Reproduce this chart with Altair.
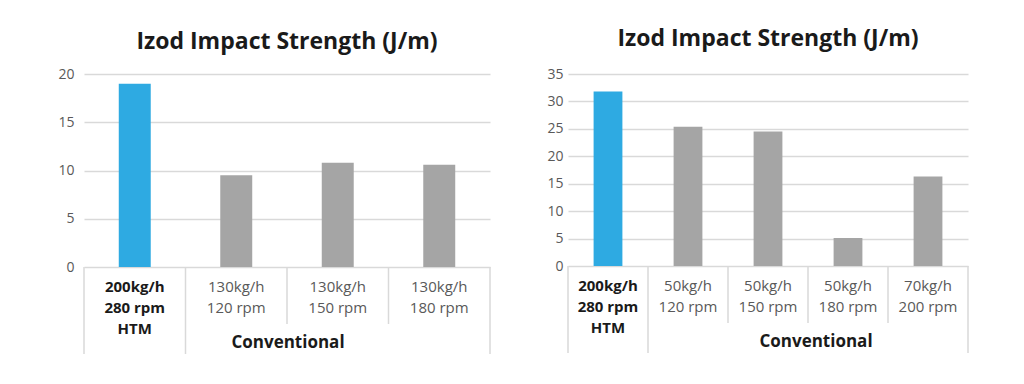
import altair as alt
import pandas as pd

TITLE = "Izod Impact Strength (J/m)"
GROUPS = ["HTM", "Conventional"]

left_cats = ["200kg/h\n280 rpm\nHTM", "130kg/h\n120 rpm", "130kg/h\n150 rpm", "130kg/h\n180 rpm"]
left_vals = [19.0, 9.5, 10.8, 10.6]
left_groups = ["HTM", "Conventional", "Conventional", "Conventional"]
left_ticks = [0, 5, 10, 15, 20]

right_cats = ["200kg/h\n280 rpm\nHTM", "50kg/h\n120 rpm", "50kg/h\n150 rpm", "50kg/h\n180 rpm", "70kg/h\n200 rpm"]
right_vals = [31.8, 25.4, 24.5, 5.1, 16.3]
right_groups = ["HTM", "Conventional", "Conventional", "Conventional", "Conventional"]
right_ticks = [0, 5, 10, 15, 20, 25, 30, 35]

BLUE = "#2eaae2"
GRAY = "#a5a5a5"
LINE = "#d9d9d9"
FONT = "Open Sans"


def panel(cats, vals, groups, ticks, W, H, bar_frac, label_pad, conv_x, title_offset):
    df = pd.DataFrame({"cat": cats, "value": vals, "group": groups})
    xenc = lambda bp=None: (alt.X("cat:N", sort=cats, axis=None,
                                  scale=alt.Scale(paddingInner=0, paddingOuter=0))
                            if bp is None else
                            alt.X("cat:N", sort=cats, axis=None, bandPosition=bp,
                                  scale=alt.Scale(paddingInner=0, paddingOuter=0)))
    base = alt.Chart(df)
    bars = base.mark_bar(width=alt.RelativeBandSize(bar_frac)).encode(
        x=xenc(),
        y=alt.Y("value:Q", scale=alt.Scale(domain=[ticks[0], ticks[-1]], nice=False),
                axis=alt.Axis(values=ticks, title=None, domain=False, ticks=False,
                              grid=True, gridColor=LINE, gridWidth=1.5,
                              labelColor="#595959", labelFontSize=14, labelFont=FONT,
                              labelPadding=label_pad)),
        color=alt.Color("group:N", scale=alt.Scale(domain=GROUPS, range=[BLUE, GRAY]), legend=None),
    )
    long0 = base.mark_rule(color=LINE, strokeWidth=1.5).encode(
        x=xenc(0), y=alt.value(H), y2=alt.value(H + 87)
    ).transform_filter(alt.FieldOneOfPredicate(field="cat", oneOf=cats[:2]))
    long1 = base.mark_rule(color=LINE, strokeWidth=1.5).encode(
        x=xenc(1), y=alt.value(H), y2=alt.value(H + 87)
    ).transform_filter(alt.FieldEqualPredicate(field="cat", equal=cats[-1]))
    short = base.mark_rule(color=LINE, strokeWidth=1.5).encode(
        x=xenc(0), y=alt.value(H), y2=alt.value(H + 57)
    ).transform_filter(alt.FieldOneOfPredicate(field="cat", oneOf=cats[2:]))
    lab_htm = base.mark_text(baseline="top", lineBreak="\n", lineHeight=21, fontSize=15,
                             font=FONT, fontWeight="bold", color="#1a1a1a").encode(
        x=xenc(), y=alt.value(H + 13), text="cat:N"
    ).transform_filter(alt.FieldEqualPredicate(field="group", equal="HTM"))
    lab_conv = base.mark_text(baseline="top", lineBreak="\n", lineHeight=21, fontSize=15,
                              font=FONT, color="#595959").encode(
        x=xenc(), y=alt.value(H + 13), text="cat:N"
    ).transform_filter(alt.FieldEqualPredicate(field="group", equal="Conventional"))
    conv = alt.Chart(pd.DataFrame({"t": [GROUPS[1]]})).mark_text(
        baseline="middle", fontSize=17, font=FONT, fontWeight="bold", color="#1a1a1a"
    ).encode(x=alt.value(conv_x), y=alt.value(H + 76), text="t:N")
    return alt.layer(bars, long0, long1, short, lab_htm, lab_conv, conv).properties(
        width=W, height=H,
        title=alt.TitleParams(TITLE, fontSize=23, font=FONT, fontWeight="bold",
                              color="#1a1a1a", anchor="middle", frame="group",
                              offset=title_offset),
    )


left = panel(left_cats, left_vals, left_groups, left_ticks, 406, 193, 0.315, 10, 204, 13)
right = panel(right_cats, right_vals, right_groups, right_ticks, 400, 192, 0.36, 5, 248, 16)

chart = alt.hconcat(left, right, spacing=55).properties(
    padding={"left": 49, "top": 20, "right": 5, "bottom": 5}
).configure_view(stroke=None)

chart.save("out.html", embed_options={"renderer": "svg", "actions": False})
